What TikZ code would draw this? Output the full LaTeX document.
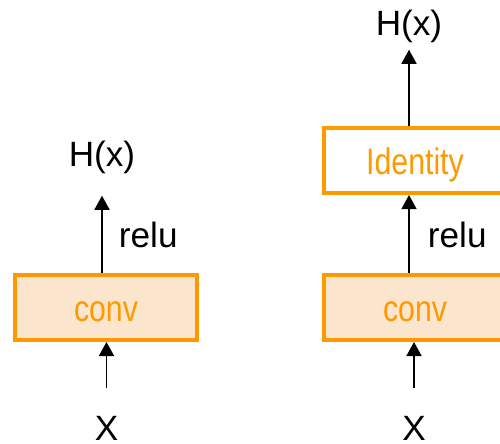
\documentclass[tikz,border=0pt]{standalone}
\usepackage{fontspec}
\setmainfont{Liberation Sans}
\newfontfamily\boxfont[FakeStretch=0.82]{Liberation Sans}
\usetikzlibrary{arrows.meta}
\definecolor{layerorange}{HTML}{FF9900}
\definecolor{layerpeach}{HTML}{FCE5CD}
\tikzset{
  layer/.style={draw=layerorange, line width=2.27pt, minimum width=3.64cm, minimum height=1.3cm,
    inner sep=0pt, text=layerorange, font=\boxfont\fontsize{21}{24}\selectfont,
    text height=16.4pt, text depth=0pt},
  lbl/.style={inner sep=0pt, font=\fontsize{20}{24}\selectfont},
}
\begin{document}
\begin{tikzpicture}[x=0.02cm,y=0.02cm,line width=1.1pt,>={Triangle[length=8pt,width=8.5pt]}]
\useasboundingbox (0,0) rectangle (500,443);
\clip (0,0) rectangle (500,443);
\node[layer, fill=layerpeach] (convA) at (106,135.5) {conv};
\node[lbl, anchor=base] (hA) at (102,276) {H(x)};
\node[lbl, anchor=base west] (reluA) at (118,195) {relu};
\node[lbl, anchor=base] (xA) at (106.5,3) {X};
\node[layer, fill=layerpeach] (convB) at (415,135.5) {conv};
\node[layer, fill=white] (idB) at (415,282.5) {Identity};
\node[lbl, anchor=base] (hB) at (409,407) {H(x)};
\node[lbl, anchor=base west] (reluB) at (427,195) {relu};
\node[lbl, anchor=base] (xB) at (414,3) {X};
\draw[->, shorten <=0.53cm] (xA.north) -- (xA.north |- convA.south);
\draw[->, shorten >=0.41cm] (convA.north -| hA.south) -- (hA.south);
\draw[->, shorten <=0.53cm] (xB.north) -- (xB.north |- convB.south);
\draw[->] (convB.north -| hB.south) -- (idB.south -| hB.south);
\draw[->, shorten >=0.11cm] (idB.north -| hB.south) -- (hB.south);
\end{tikzpicture}
\end{document}
